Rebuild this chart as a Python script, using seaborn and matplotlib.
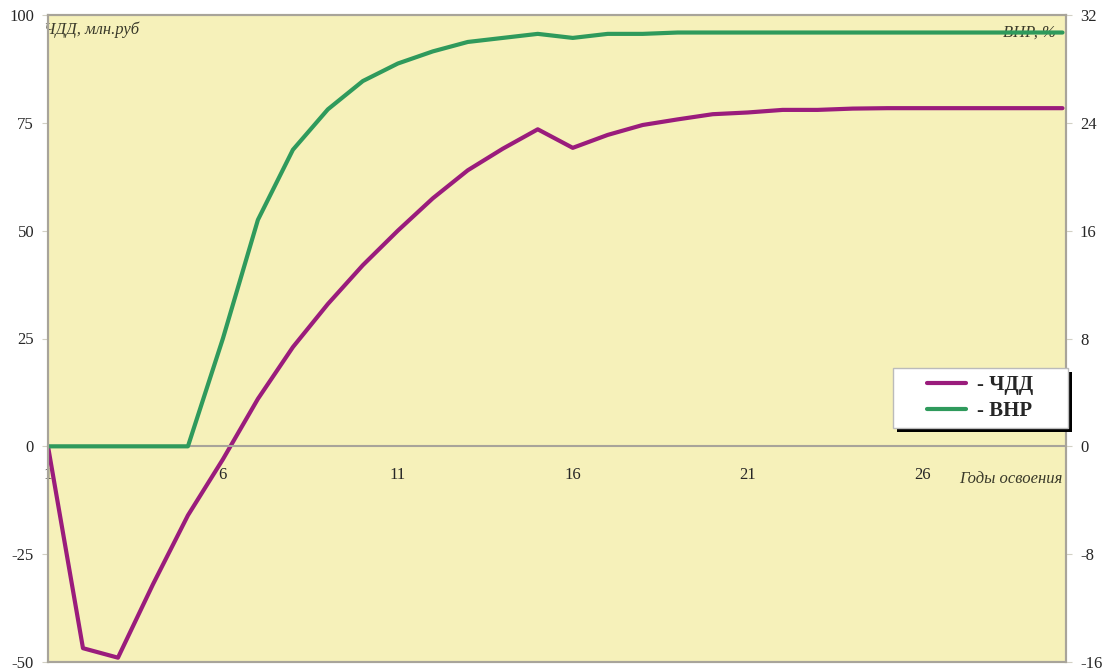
import pandas as pd
import matplotlib.pyplot as plt
import seaborn as sns
from matplotlib.ticker import MultipleLocator, FixedLocator
from matplotlib.patches import Rectangle

# data
years = list(range(1, 31))
npv = [0, -46.8, -49, -32, -16, -3, 11, 23, 33, 42,
       50, 57.5, 64, 69, 73.5, 69.2, 72.2, 74.5, 75.8, 77,
       77.4, 78, 78, 78.3, 78.4, 78.4, 78.4, 78.4, 78.4, 78.4]
irr = [0, 0, 0, 0, 0, 8, 16.8, 22, 25, 27.1,
       28.4, 29.3, 30, 30.3, 30.6, 30.3, 30.6, 30.6, 30.7, 30.7,
       30.7, 30.7, 30.7, 30.7, 30.7, 30.7, 30.7, 30.7, 30.7, 30.7]
left_ticks = [-50, -25, 0, 25, 50, 75, 100]
right_ticks = [-16, -8, 0, 8, 16, 24, 32]
x_labels = [1, 6, 11, 16, 21, 26]

df = pd.DataFrame({'year': years, 'npv': npv, 'irr': irr})

sns.set_style('white')
plt.rcParams['font.family'] = ['Liberation Serif', 'DejaVu Serif']
plt.rcParams['axes.unicode_minus'] = False

bg = '#F6F1BA'
edge = '#A8A49A'
c_npv = '#9A1C7C'
c_irr = '#2F9A5C'
W, H = 1107, 672

fig = plt.figure(figsize=(11.07, 6.72), dpi=100)
ax = fig.add_axes([48 / W, 1 - 662 / H, (1066 - 48) / W, (662 - 15) / H])
ax.set_facecolor(bg)
ax2 = ax.twinx()

sns.lineplot(data=df, x='year', y='npv', ax=ax, color=c_npv, lw=3, label='- ЧДД', legend=False)
sns.lineplot(data=df, x='year', y='irr', ax=ax2, color=c_irr, lw=3, label='- ВНР', legend=False)

ax.set_xlim(1, 30.1)
ax.set_ylim(-50, 100)
ax2.set_ylim(-16, 32)
ax.set_yticks(left_ticks)
ax2.set_yticks(right_ticks)
ax.set_xlabel('')
ax.set_ylabel('')
ax2.set_ylabel('')

# x axis crosses at zero
ax.spines['bottom'].set_position(('data', 0))
ax.axhline(-50, color=edge, lw=1.5, clip_on=False, zorder=5)
ax.xaxis.set_major_locator(FixedLocator(x_labels))
ax.xaxis.set_minor_locator(MultipleLocator(1))
ax.tick_params(axis='x', which='both', direction='inout', length=6, color=edge,
               labelsize=12, pad=12)
ax.tick_params(axis='y', direction='out', length=4, width=0.8, color='#D2D0C4',
               labelsize=12, pad=6)
ax2.tick_params(axis='y', direction='out', length=4, width=0.8, color='#D2D0C4',
                labelsize=12, pad=6)

for a in (ax, ax2):
    for s in a.spines.values():
        s.set_color(edge)
        s.set_linewidth(1.5)

ax.text(0.88, 96.5, 'ЧДД, млн.руб', fontsize=12, style='italic', color='#3A3A2A',
        ha='left', va='center')
ax2.text(29.8, 30.7, 'ВНР, %', fontsize=12, style='italic', color='#3A3A2A',
         ha='right', va='center', zorder=1)
ax.text(30.0, -7.5, 'Годы освоения', fontsize=12, style='italic', color='#3A3A2A',
        ha='right', va='center')

# legend box with a solid shadow
fig.add_artist(Rectangle((897 / W, 1 - 432 / H), 175 / W, 60 / H, transform=fig.transFigure,
                         facecolor='black', edgecolor='none', zorder=3))
fig.add_artist(Rectangle((893 / W, 1 - 428 / H), 175 / W, 60 / H, transform=fig.transFigure,
                         facecolor='white', edgecolor='#BBBBBB', lw=1, zorder=4))
h1, l1 = ax.get_legend_handles_labels()
h2, l2 = ax2.get_legend_handles_labels()
leg = fig.legend(h1 + h2, l1 + l2, loc='center left', bbox_to_anchor=(927 / W, 1 - 398 / H),
                 frameon=False, handlelength=1.85, prop={'weight': 'bold', 'size': 15},
                 borderpad=0, labelspacing=0.3, handletextpad=0.55, borderaxespad=0)
leg.set_zorder(6)

fig.savefig('out.png', dpi=100, facecolor='white')
